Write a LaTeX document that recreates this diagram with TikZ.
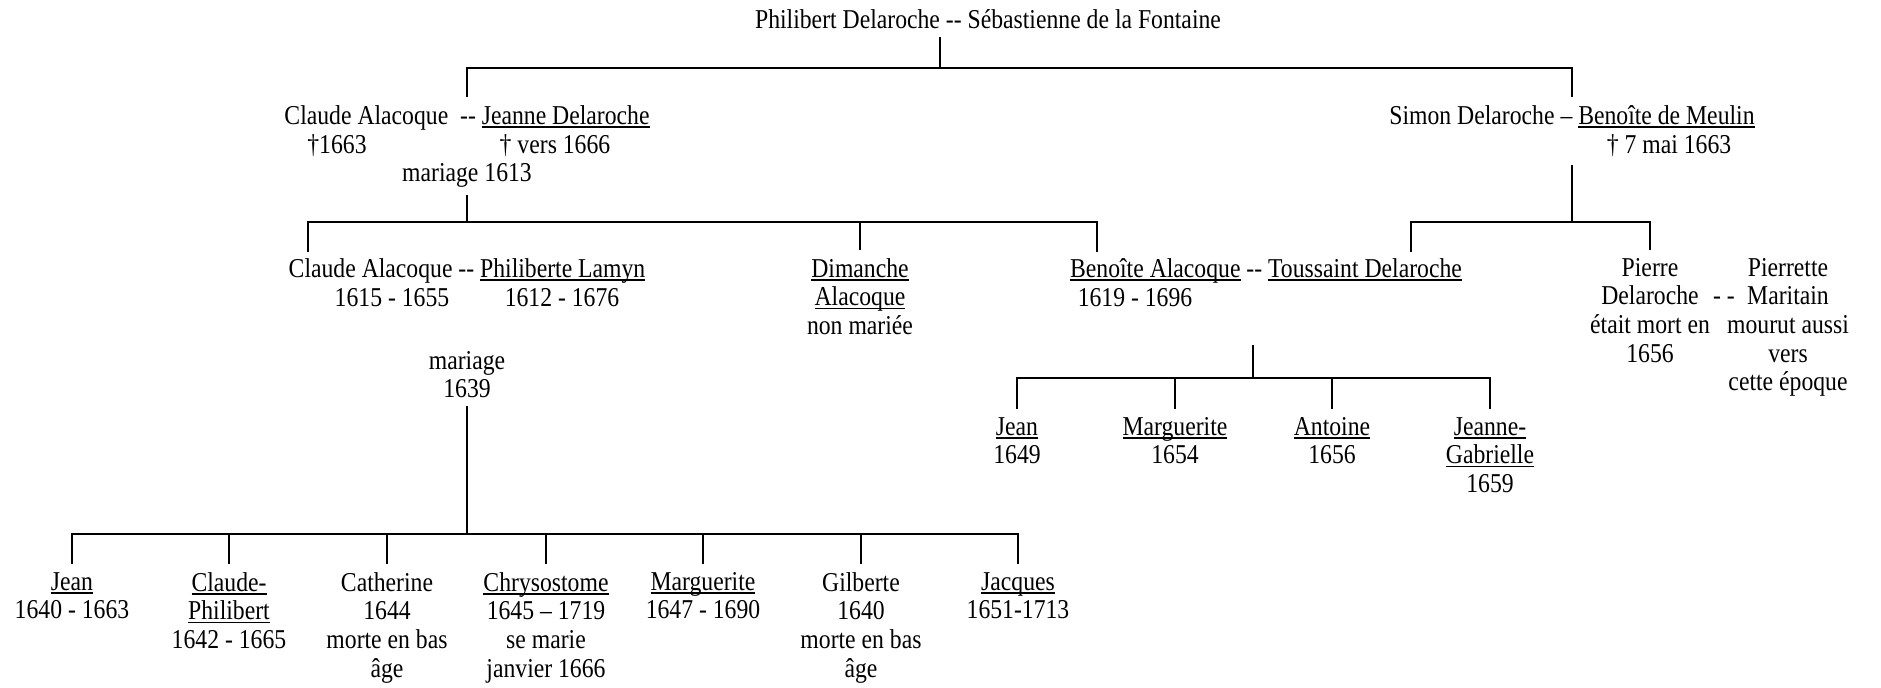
\documentclass[tikz,border=0pt]{standalone}
\usepackage{fontspec}
\setmainfont{Liberation Serif}[FakeStretch=0.87]
\newcommand{\ulname}[1]{\setbox0=\hbox{#1}\rlap{\rule[-2pt]{\wd0}{0.75pt}}\box0\relax}
\tikzset{person/.style={align=center, anchor=north, inner xsep=0pt, inner ysep=4.5pt},
  link/.style={line width=0.9pt}}
\begin{document}
\begin{tikzpicture}[x=0.02cm, y=-0.02cm, font=\fontsize{15.5}{16.3}\selectfont]
\useasboundingbox (0,0) rectangle (1881,688);
\node[person](top) at (988,1) {Philibert Delaroche -{}- Sébastienne de la Fontaine};
\node[person](coupleA) at (467,97) {Claude Alacoque \ -{}- \ulname{Jeanne Delaroche}};
\node[person](deathA1) at (337,126) {†1663};
\node[person](deathA2) at (555,126) {† vers 1666};
\node[person](marA) at (467,155) {mariage 1613};
\node[person](coupleS) at (1572,97) {Simon Delaroche – \ulname{Benoîte de Meulin}};
\node[person](deathS) at (1669,126) {† 7 mai 1663};
\node[person](coupleC) at (467,250) {Claude Alacoque -{}- \ulname{Philiberte Lamyn}};
\node[person](datesC1) at (392,280) {1615 - 1655};
\node[person](datesC2) at (562,280) {1612 - 1676};
\node[person](dimanche) at (860,250) {\ulname{Dimanche}\\\ulname{Alacoque}\\non mariée};
\node[person](coupleB) at (1266,250) {\ulname{Benoîte Alacoque} -{}- \ulname{Toussaint Delaroche}};
\node[person](datesB) at (1135,280) {1619 - 1696};
\node[person](pierre) at (1650,250) {Pierre\\Delaroche\\était mort en\\1656};
\node[anchor=base, inner sep=0pt](linkP) at (1724,305) {- -};
\node[person](pierrette) at (1788,250) {Pierrette\\Maritain\\mourut aussi\\vers\\cette époque};
\node[person](marC) at (467,343) {mariage\\1639};
\node[person](jeanT) at (1017,409) {\ulname{Jean}\\1649};
\node[person](margueriteT) at (1175,409) {\ulname{Marguerite}\\1654};
\node[person](antoineT) at (1332,409) {\ulname{Antoine}\\1656};
\node[person](jeanneT) at (1490,409) {\ulname{Jeanne-}\\\ulname{Gabrielle}\\1659};
\node[person](jean) at (72,564) {\ulname{Jean}\\1640 - 1663};
\node[person](claudeP) at (229,564) {\ulname{Claude-}\\\ulname{Philibert}\\1642 - 1665};
\node[person](catherine) at (387,564) {Catherine\\1644\\morte en bas\\âge};
\node[person](chrysostome) at (546,564) {\ulname{Chrysostome}\\1645 – 1719\\se marie\\janvier 1666};
\node[person](marguerite) at (703,564) {\ulname{Marguerite}\\1647 - 1690};
\node[person](gilberte) at (861,564) {Gilberte\\1640\\morte en bas\\âge};
\node[person](jacques) at (1018,564) {\ulname{Jacques}\\1651-1713};
\coordinate (busP) at (940,68);
\coordinate (busA) at (467,222);
\coordinate (busS) at (1572,222);
\coordinate (busC) at (467,534);
\coordinate (topT) at (1253,345);
\coordinate (busT) at (1253,378);
\coordinate (dropC) at (308,252);
\coordinate (dropB) at (1097,252);
\coordinate (dropT) at (1411,252);
\begin{scope}[link]
\draw (top.south -| busP) -- (busP);
\draw (busP) -| (coupleA.north);
\draw (busP) -| (coupleS.north);
\draw (marA.south) -- (busA);
\draw (busA) -| (dropC);
\draw (busA) -| (dimanche.north);
\draw (busA) -| (dropB);
\draw (deathS.south -| busS) -- (busS);
\draw (busS) -| (dropT);
\draw (busS) -| (pierre.north);
\draw (marC.south) -- (busC);
\foreach \n in {jean,claudeP,catherine,chrysostome,marguerite,gilberte,jacques}
  \draw (busC) -| (\n.north);
\draw (topT) -- (busT);
\foreach \n in {jeanT,margueriteT,antoineT,jeanneT}
  \draw (busT) -| (\n.north);
\end{scope}
\end{tikzpicture}
\end{document}
